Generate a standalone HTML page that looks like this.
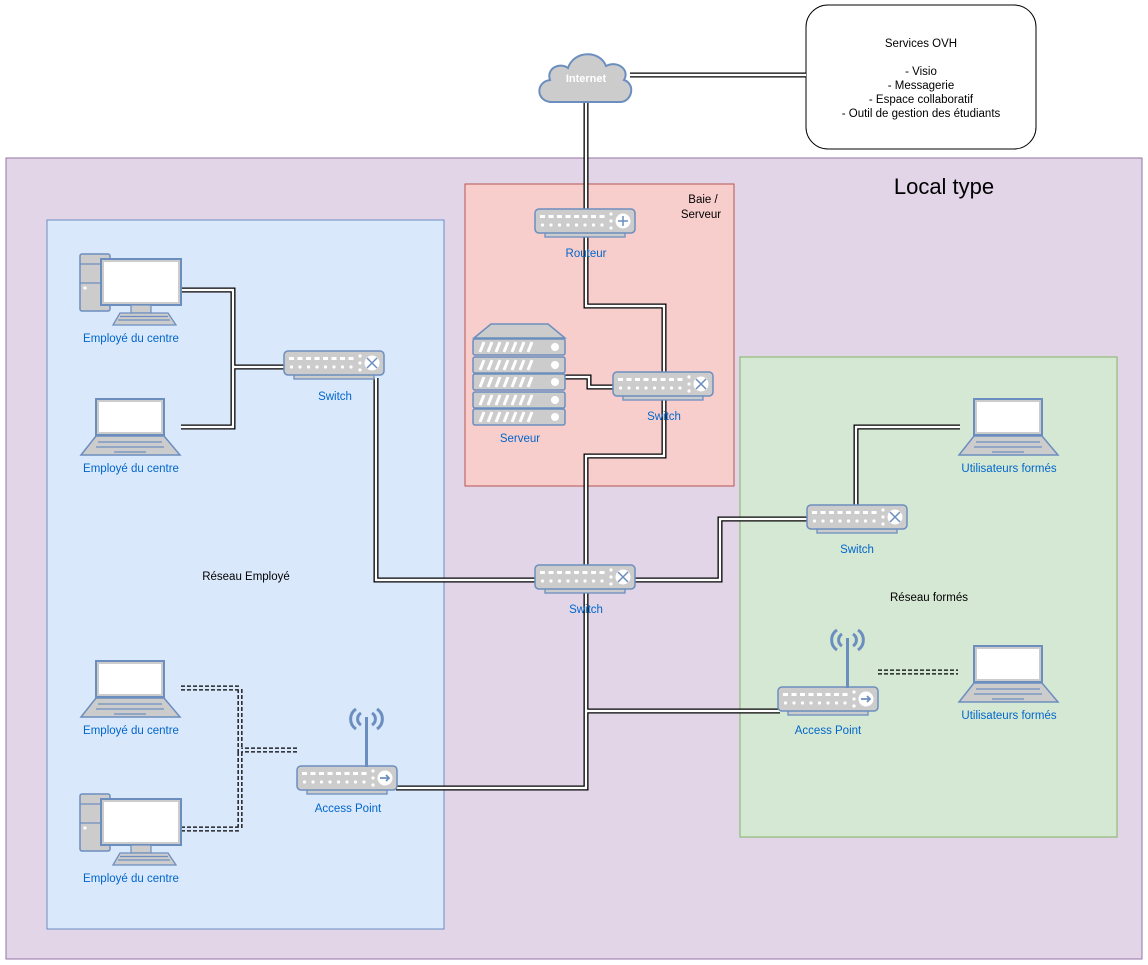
<!DOCTYPE html>
<html><head><meta charset="utf-8"><style>
body{margin:0;background:#fff}
svg{display:block;font-family:"Liberation Sans",sans-serif}
.lb{fill:#0066cc;font-size:11.5px;text-anchor:middle}
.tx{fill:#000;font-size:11.5px;text-anchor:middle}
.o{fill:none;stroke:#000;stroke-width:5}
.i{fill:none;stroke-width:2.4}
</style></head><body>
<svg width="1148" height="965" viewBox="0 0 1148 965" xmlns="http://www.w3.org/2000/svg">
<defs>
<g id="sw">
<rect x="10" y="22" width="80" height="6" fill="#ccc" stroke="#6c8ebf" stroke-width="1.3"/>
<rect x="0" y="0" width="100" height="24" rx="4" fill="#ccc" stroke="#6c8ebf" stroke-width="1.5"/>
<g fill="#fff">
<rect x="5" y="6" width="5" height="3"/><rect x="13.5" y="6" width="5" height="3"/><rect x="22" y="6" width="5" height="3"/><rect x="30.5" y="6" width="5" height="3"/><rect x="39" y="6" width="5" height="3"/><rect x="47.5" y="6" width="5" height="3"/><rect x="56" y="6" width="5" height="3"/><rect x="64.5" y="6" width="5" height="3"/>
<circle cx="7.5" cy="16" r="1.6"/><circle cx="16" cy="16" r="1.6"/><circle cx="24.5" cy="16" r="1.6"/><circle cx="33" cy="16" r="1.6"/><circle cx="41.5" cy="16" r="1.6"/><circle cx="50" cy="16" r="1.6"/><circle cx="58.5" cy="16" r="1.6"/><circle cx="67" cy="16" r="1.6"/>
<circle cx="76" cy="5" r="1.6"/><circle cx="76" cy="12" r="1.6"/><circle cx="76" cy="19" r="1.6"/>
<circle cx="88" cy="12" r="7.5"/></g>
</g>
<g id="swx"><use href="#sw"/><path d="M83 7 L93 17 M93 7 L83 17" stroke="#6c8ebf" stroke-width="1.5"/></g>
<g id="swr"><use href="#sw"/><path d="M83 12 H93 M88 7 V17" stroke="#6c8ebf" stroke-width="1.5"/></g>
<g id="swa"><use href="#sw"/><path d="M83 12 H92 M89 9 L92 12 L89 15" stroke="#6c8ebf" stroke-width="1.8" fill="none"/></g>
<g id="ap"><use href="#swa" transform="translate(0,57)"/>
<rect x="68" y="8" width="3" height="50" fill="#6c8ebf"/>
<g fill="none" stroke="#6c8ebf" stroke-width="3"><path d="M64 4 A7 7 0 0 0 64 16"/><path d="M75 4 A7 7 0 0 1 75 16"/><path d="M59 0 A12 12 0 0 0 59 20"/><path d="M80 0 A12 12 0 0 1 80 20"/></g>
</g>
<g id="lap">
<rect x="16" y="1" width="68" height="36" fill="#fff" stroke="#6c8ebf" stroke-width="2"/>
<rect x="18" y="3" width="64" height="32" fill="none" stroke="#ccc" stroke-width="2"/>
<path d="M1 57 L16 38 L84 38 L100 57 Z" fill="#ccc" stroke="#6c8ebf" stroke-width="1.5"/>
<path d="M18 44 H82 M16 49 H84 M34 54 H66" stroke="#6c8ebf" stroke-width="1.2"/>
</g>
<g id="pc">
<rect x="0" y="1" width="30" height="57" rx="2" fill="#ccc" stroke="#6c8ebf" stroke-width="1.5"/>
<path d="M0 11 H30 M0 30 H30" stroke="#6c8ebf" stroke-width="1.2"/>
<circle cx="5" cy="35" r="1.6" fill="#fff"/>
<rect x="21" y="6" width="80" height="46" fill="#fff" stroke="#6c8ebf" stroke-width="2"/>
<rect x="23" y="8" width="76" height="42" fill="none" stroke="#ccc" stroke-width="2"/>
<rect x="51" y="52" width="20" height="8" fill="#ccc" stroke="#6c8ebf" stroke-width="1.2"/>
<path d="M33 72 L40 60 L88 60 L96 72 Z" fill="#ccc" stroke="#6c8ebf" stroke-width="1.3"/>
<path d="M40 63.5 H88 M38 67 H90" stroke="#6c8ebf" stroke-width="1.2"/>
</g>
<g id="srvrow">
<rect x="0" y="0" width="92" height="16" rx="2" fill="#ccc" stroke="#6c8ebf" stroke-width="1.5"/>
<path d="M7 13 L11 3 M15 13 L19 3 M23 13 L27 3 M31 13 L35 3 M39 13 L43 3 M47 13 L51 3 M55 13 L59 3" stroke="#fff" stroke-width="3"/>
<circle cx="82" cy="8" r="4" fill="#fff"/>
</g>
</defs>

<!-- top -->
<rect x="806" y="5" width="230" height="144" rx="22" fill="#fff" stroke="#000"/>
<g class="tx" font-size="11px"><text x="921" y="47">Services OVH</text><text x="921" y="75">- Visio</text><text x="921" y="89">- Messagerie</text><text x="921" y="103">- Espace collaboratif</text><text x="921" y="117">- Outil de gestion des étudiants</text></g>

<rect x="6" y="158" width="1136" height="801" fill="#e1d5e7" stroke="#9673a6"/>
<text x="944" y="194" font-size="22" text-anchor="middle">Local type</text>
<rect x="47" y="220" width="397" height="709" fill="#dae8fc" stroke="#6c8ebf"/>
<rect x="465" y="184" width="269" height="302" fill="#f8cecc" stroke="#b85450"/>
<rect x="740" y="357" width="377" height="480" fill="#d5e8d4" stroke="#82b366"/>
<text class="tx" x="703" y="203">Baie /</text><text class="tx" x="701" y="218">Serveur</text>
<text class="tx" x="246" y="580">Réseau Employé</text>
<text class="tx" x="929" y="601">Réseau formés</text>

<!-- connectors -->
<g class="o">
<path d="M630 75 H806"/>
<path d="M586 100 V212"/>
<path d="M586 236 V306 H664 V374"/>
<path d="M565 377 H589 V387 H615"/>
<path d="M664 399 V456 H586 V567"/>
<path d="M376 378 V580 H537"/>
<path d="M181 290 H233 V367 H286 M181 427 H233 V367"/>
<path d="M634 580 H720 V519 H809"/>
<path d="M856 507 V427 H960"/>
<path d="M586 592 V788 H396 M586 711 H780"/>
</g>
<g class="i" stroke="#fff">
<path d="M630 75 H806"/>
<path d="M586 100 V212"/>
<path d="M586 236 V306 H664 V374"/>
<path d="M565 377 H589 V387 H615"/>
<path d="M664 399 V456 H586 V567"/>
<path d="M376 378 V580 H537"/>
<path d="M181 290 H233 V367 H286 M181 427 H233 V367"/>
<path d="M634 580 H720 V519 H809"/>
<path d="M856 507 V427 H960"/>
<path d="M586 592 V788 H396 M586 711 H780"/>
</g>
<g class="o" stroke="#444" stroke-dasharray="4 2">
<path d="M181 688 H240 V750 H298 M181 829 H240 V750"/>
<path d="M878 672 H958"/>
</g>
<g class="i" stroke="#dae8fc"><path d="M181 688 H240 V750 H298 M181 829 H240 V750"/></g>
<g class="i" stroke="#d5e8d4"><path d="M878 672 H958"/></g>

<!-- cloud -->
<path d="M552 102 C536 102 535 82 550 80 C546 68 560 62 568 68 C574 50 600 50 606 66 C618 60 630 70 624 80 C636 84 632 102 620 102 Z" fill="#ccc" stroke="#6c8ebf" stroke-width="2"/>
<text x="586" y="82" fill="#fff" font-size="11" font-weight="bold" text-anchor="middle">Internet</text>

<!-- devices -->
<use href="#swr" x="535" y="209"/><text class="lb" x="586" y="257">Routeur</text>
<use href="#swx" x="613" y="372"/><text class="lb" x="664" y="420">Switch</text>
<use href="#swx" x="535" y="565"/><text class="lb" x="586" y="613">Switch</text>
<use href="#swx" x="284" y="351"/><text class="lb" x="335" y="400">Switch</text>
<use href="#swx" x="807" y="505"/><text class="lb" x="857" y="553">Switch</text>
<path d="M474 338 L491 324 L548 324 L565 338 Z" fill="#ccc" stroke="#6c8ebf" stroke-width="1.5"/>
<use href="#srvrow" x="473" y="339"/><use href="#srvrow" x="473" y="357"/><use href="#srvrow" x="473" y="374"/><use href="#srvrow" x="473" y="392"/><use href="#srvrow" x="473" y="409"/>
<text class="lb" x="520" y="442">Serveur</text>
<use href="#pc" x="80" y="253"/><text class="lb" x="131" y="342">Employé du centre</text>
<use href="#lap" x="80" y="398"/><text class="lb" x="131" y="472">Employé du centre</text>
<use href="#lap" x="80" y="660"/><text class="lb" x="131" y="734">Employé du centre</text>
<use href="#pc" x="80" y="793"/><text class="lb" x="131" y="882">Employé du centre</text>
<use href="#ap" x="297" y="709"/><text class="lb" x="348" y="812">Access Point</text>
<use href="#ap" x="778" y="630"/><text class="lb" x="828" y="734">Access Point</text>
<use href="#lap" x="958" y="398"/><text class="lb" x="1009" y="472">Utilisateurs formés</text>
<use href="#lap" x="958" y="645"/><text class="lb" x="1009" y="719">Utilisateurs formés</text>
</svg>
</body></html>
